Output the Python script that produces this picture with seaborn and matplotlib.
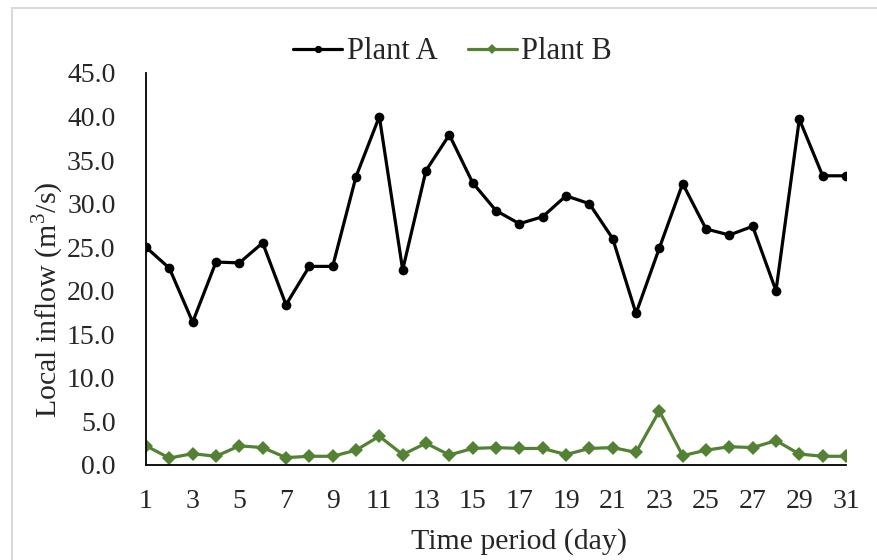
import pandas as pd
import matplotlib.pyplot as plt
import matplotlib.patches as mpatches
import seaborn as sns

# Data
days = list(range(1, 32))
plant_a = [25.0, 22.6, 16.4, 23.3, 23.2, 25.5, 18.4, 22.8, 22.8, 33.1,
           40.0, 22.4, 33.8, 37.9, 32.4, 29.2, 27.7, 28.5, 30.9, 30.0,
           26.0, 17.4, 24.9, 32.3, 27.1, 26.4, 27.4, 20.0, 39.7, 33.2, 33.2]
plant_b = [2.2, 0.8, 1.3, 1.0, 2.2, 2.0, 0.85, 1.0, 1.0, 1.7,
           3.3, 1.2, 2.5, 1.15, 1.9, 2.0, 1.9, 1.9, 1.2, 1.9,
           2.0, 1.45, 6.2, 1.07, 1.7, 2.1, 2.0, 2.8, 1.26, 1.0, 1.0]
x_ticks = list(range(1, 32, 2))
y_ticks = [0, 5, 10, 15, 20, 25, 30, 35, 40, 45]

df = pd.DataFrame({"day": days, "Plant A": plant_a, "Plant B": plant_b})
long_df = df.melt(id_vars="day", var_name="plant", value_name="inflow")

sns.set_style("white")
plt.rcParams["font.family"] = ["Liberation Serif", "DejaVu Serif"]
plt.rcParams["mathtext.fontset"] = "custom"
plt.rcParams["mathtext.rm"] = "Liberation Serif"

fig = plt.figure(figsize=(8.77, 5.6), dpi=100)
ax = fig.add_axes([146 / 877, 1 - 465 / 560, 700 / 877, 392 / 560])

palette = {"Plant A": "black", "Plant B": "#548235"}
markers = {"Plant A": "o", "Plant B": "D"}
sns.lineplot(data=long_df, x="day", y="inflow", hue="plant", style="plant",
             palette=palette, markers=markers, dashes=False, linewidth=2.3,
             markersize=7, markeredgewidth=0, ax=ax)

ax.set_xlim(1, 31)
ax.set_ylim(0, 45)
ax.set_xticks(days, minor=True)
ax.set_xticks(x_ticks)
ax.set_xticklabels([str(d) for d in x_ticks])
ax.set_yticks(y_ticks)
ax.set_yticklabels([f"{v:.1f}" for v in y_ticks])
ax.tick_params(axis="both", which="both", direction="in", length=7, width=1.3,
               labelsize=20, color="black")
ax.tick_params(axis="x", which="major", pad=17)
ax.tick_params(axis="y", which="major", pad=22)
for side in ["top", "right"]:
    ax.spines[side].set_visible(False)
for side in ["left", "bottom"]:
    ax.spines[side].set_color("black")
    ax.spines[side].set_linewidth(1.3)

ax.set_xlabel("Time period (day)", fontsize=21.5)
ax.xaxis.set_label_coords(0.533, -0.16)
ax.xaxis.label.set_va("top")
ax.set_ylabel("Local inflow (m$^3$/s)", fontsize=21.5)
ax.yaxis.set_label_coords(-0.115, 0.421)

handles, labels = ax.get_legend_handles_labels()
ax.legend(handles, labels, loc="center", bbox_to_anchor=(0.438, 1.0 + 21 / 392),
          ncol=2, frameon=False, fontsize=22, handlelength=1.6,
          handletextpad=0.15, columnspacing=1.0, markerscale=0.75)

# Chart area frame
fig.patches.append(mpatches.Rectangle((12 / 877, -0.1), 1.2, 1.1 - 8 / 560,
                                      transform=fig.transFigure, fill=False,
                                      edgecolor="#d9d9d9", linewidth=1.5))

plt.savefig("out.png", dpi=100)
